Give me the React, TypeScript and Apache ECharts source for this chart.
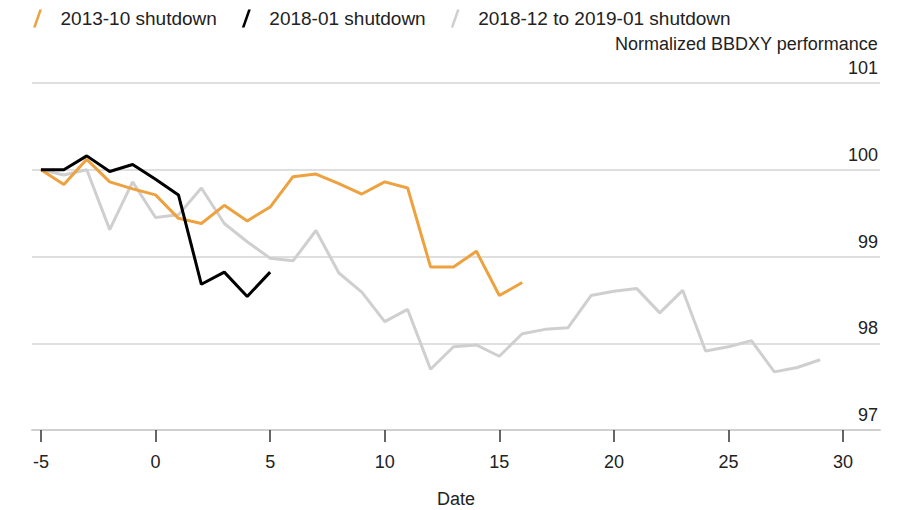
import React, { useEffect, useRef } from "react";
import * as echarts from "echarts";

const seriesNames = ["2013-10 shutdown", "2018-01 shutdown", "2018-12 to 2019-01 shutdown"];
const yAxisTitle = "Normalized BBDXY performance";
const startDay = -5;
const xTicks = [-5, 0, 5, 10, 15, 20, 25, 30];

const shutdown2013 = [
  100.0, 99.83, 100.12, 99.86, 99.78, 99.71, 99.44, 99.38, 99.59, 99.41, 99.57,
  99.92, 99.95, 99.84, 99.72, 99.86, 99.79, 98.88, 98.88, 99.06, 98.55, 98.7,
];
const shutdown2018 = [
  100.0, 100.0, 100.16, 99.98, 100.06, 99.89, 99.71, 98.68, 98.82, 98.54, 98.82,
];
const shutdown2019 = [
  100.0, 99.94, 100.0, 99.31, 99.86, 99.45, 99.48, 99.79, 99.38, 99.17, 98.98,
  98.95, 99.3, 98.81, 98.59, 98.25, 98.39, 97.7, 97.96, 97.98, 97.85, 98.11,
  98.16, 98.18, 98.55, 98.6, 98.63, 98.35, 98.61, 97.91, 97.96, 98.03, 97.67,
  97.72, 97.81,
];

const colors = ["#eea23f", "#000000", "#cfcfcf"];

const toPairs = (vals: number[]) => vals.map((v, i) => [startDay + i, v]);

const FONT = "'Liberation Sans', Arial, Helvetica, sans-serif";

export default function App() {
  const ref = useRef<HTMLDivElement>(null);
  useEffect(() => {
    if (!ref.current) return;
    const chart = echarts.init(ref.current, undefined, { renderer: "svg" });
    const all = [shutdown2013, shutdown2018, shutdown2019];
    const zs = [3, 4, 2];
    chart.setOption({
      animation: false,
      backgroundColor: "#ffffff",
      textStyle: { fontFamily: FONT, color: "#222" },
      legend: {
        top: 1,
        left: 25,
        padding: 0,
        itemWidth: 12,
        itemHeight: 18,
        itemGap: 25,
        icon: "path://M0,20 L7,0 L10,0 L3,20 Z",
        textStyle: { fontSize: 19, color: "#222", fontFamily: FONT, padding: [0, 0, 0, 12] },
        data: seriesNames,
      },
      graphic: [
        {
          type: "text",
          right: 22,
          top: 27,
          style: { text: yAxisTitle, fontSize: 18, fill: "#222", fontFamily: FONT },
        },
      ],
      grid: { left: 24, right: 20, top: 75, bottom: 80, containLabel: false, outerBoundsMode: "none" },
      xAxis: {
        type: "value",
        min: -5.39,
        max: 31.61,
        name: "Date",
        nameLocation: "middle",
        nameGap: 60,
        nameTextStyle: { fontSize: 18, color: "#222", fontFamily: FONT },
        axisLine: { show: true, lineStyle: { color: "#d0d0d0", width: 2 } },
        axisTick: {
          show: true,
          customValues: xTicks,
          length: 12,
          lineStyle: { color: "#333", width: 1.5 },
        },
        axisLabel: {
          customValues: xTicks,
          fontSize: 18,
          color: "#222",
          margin: 23,
          fontFamily: FONT,
        },
        splitLine: { show: false },
      },
      yAxis: {
        type: "value",
        position: "right",
        min: 97,
        max: 101,
        interval: 1,
        axisLine: { show: false },
        axisTick: { show: false },
        axisLabel: {
          inside: true,
          margin: 2,
          fontSize: 18,
          color: "#222",
          align: "right",
          verticalAlign: "bottom",
          padding: [0, 0, 6, 0],
          fontFamily: FONT,
          showMinLabel: true,
          showMaxLabel: true,
        },
        splitLine: { show: true, lineStyle: { color: "#d5d5d5", width: 1.5 } },
      },
      series: seriesNames.map((name, i) => ({
        name,
        type: "line",
        data: toPairs(all[i]),
        showSymbol: false,
        symbol: "none",
        z: zs[i],
        itemStyle: { color: colors[i] },
        lineStyle: { color: colors[i], width: 3 },
      })),
    });
    return () => chart.dispose();
  }, []);
  return <div ref={ref} style={{ width: 892, height: 502 }} />;
}
